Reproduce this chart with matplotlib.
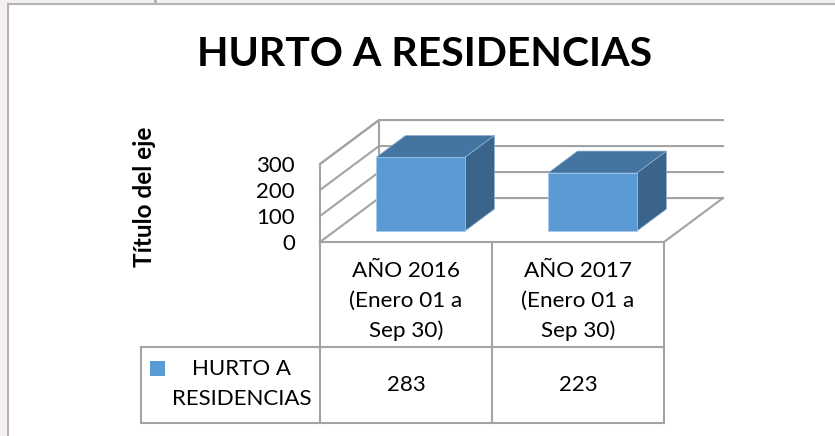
import matplotlib
matplotlib.use('Agg')
import matplotlib.pyplot as plt
from matplotlib.patches import Polygon, Rectangle

plt.rcParams['font.family'] = ['Lato', 'DejaVu Sans']

title = 'HURTO A RESIDENCIAS'
categories = ['AÑO 2016\n(Enero 01 a\nSep 30)', 'AÑO 2017\n(Enero 01 a\nSep 30)']
series_name = 'HURTO A\nRESIDENCIAS'
values = [283, 223]
y_ticks = [0, 100, 200, 300]

W, H = 835, 436
grid_c = '#a3a3a3'
face_c = '#5b9bd5'
top_c = '#4475a0'
side_c = '#3a6489'

fig = plt.figure(figsize=(W / 100, H / 100), dpi=100, facecolor='#f6f1f1')

# page panel and table drawn in pixel coordinates
page = fig.add_axes([0, 0, 1, 1])
page.set_xlim(0, W)
page.set_ylim(H, 0)
page.axis('off')
page.add_patch(Rectangle((8, 4), W, H, fc='white', ec='#b5b2b2', lw=1.5))
page.plot([155, 155], [0, 3], color='#b5b2b2', lw=2)

page.text(425, 55, title, fontsize=29.5, fontweight='bold', ha='center', va='center', color='black')
page.text(144, 197, 'Título del eje', fontsize=17.5, fontweight='bold', rotation=90,
          ha='center', va='center', color='black')

# front plane of the chart: category units across, values up
x0, x1, y0, y1 = 320, 664, 242, 164
ax = fig.add_axes([x0 / W, 1 - y0 / H, (x1 - x0) / W, (y0 - y1) / H])
ax.set_xlim(0, 2)
ax.set_ylim(0, 300)
ax.axis('off')

depth_x = 0.343
depth_y = 169


def pt(x, v, d):
    # oblique projection, d = 0 front of the floor, d = 1 back wall
    return (x + d * depth_x, v + d * depth_y)


# walls and gridlines
for t in y_ticks:
    ax.plot(*zip(pt(0, t, 0), pt(0, t, 1), pt(2, t, 1)), color=grid_c, lw=1.5,
            clip_on=False, zorder=1, solid_joinstyle='miter')
    ax.text(-0.145, t - 6, str(t), fontsize=16, ha='right', va='center', color='black', clip_on=False)
ax.plot(*zip(pt(0, 0, 0), pt(0, 300, 0), pt(0, 300, 1), pt(0, 0, 1)), color=grid_c, lw=1.5,
        clip_on=False, zorder=1)
ax.plot(*zip(pt(0, 0, 0), pt(2, 0, 0), pt(2, 0, 1)), color=grid_c, lw=1.5, clip_on=False, zorder=1)

# 3d bars
bar_w = 0.517
for i, v in enumerate(values):
    left = i + 0.24
    right = left + bar_w
    front = 0.25
    back = 0.75
    ax.add_patch(Polygon([pt(left, 0, front), pt(right, 0, front), pt(right, v, front), pt(left, v, front)],
                         fc=face_c, ec='#a5c8ea', lw=0.5, zorder=4, clip_on=False))
    ax.add_patch(Polygon([pt(left, v, front), pt(right, v, front), pt(right, v, back), pt(left, v, back)],
                         fc=top_c, ec='#8fb3d4', lw=0.5, zorder=3, clip_on=False))
    ax.add_patch(Polygon([pt(right, 0, front), pt(right, v, front), pt(right, v, back), pt(right, 0, back)],
                         fc=side_c, ec='#8fb3d4', lw=0.5, zorder=3, clip_on=False))

# data table under the chart
row_top, row_mid, row_bot = 242, 347, 423
tab_left = 141
col_x = [ax.transData.transform((c, 0))[0] for c in range(len(categories) + 1)]
for x in col_x:
    page.plot([x, x], [row_top, row_bot], color=grid_c, lw=1.5)
page.plot([tab_left, col_x[-1]], [row_mid, row_mid], color=grid_c, lw=1.5)
page.plot([tab_left, col_x[-1]], [row_bot, row_bot], color=grid_c, lw=1.5)
page.plot([tab_left, tab_left], [row_mid, row_bot], color=grid_c, lw=1.5)

for i, (c, v) in enumerate(zip(categories, values)):
    xc = (col_x[i] + col_x[i + 1]) / 2
    page.text(xc, 301, c, fontsize=16.2, ha='center', va='center', linespacing=1.6, color='black')
    page.text(xc, 385, str(v), fontsize=16, ha='center', va='center', color='black')

page.add_patch(Rectangle((150, 361), 15, 15, fc=face_c, ec='none'))
page.text(242, 384, series_name, fontsize=16, ha='center', va='center', linespacing=1.6, color='black')

fig.savefig('out.png', dpi=100, facecolor=fig.get_facecolor())
